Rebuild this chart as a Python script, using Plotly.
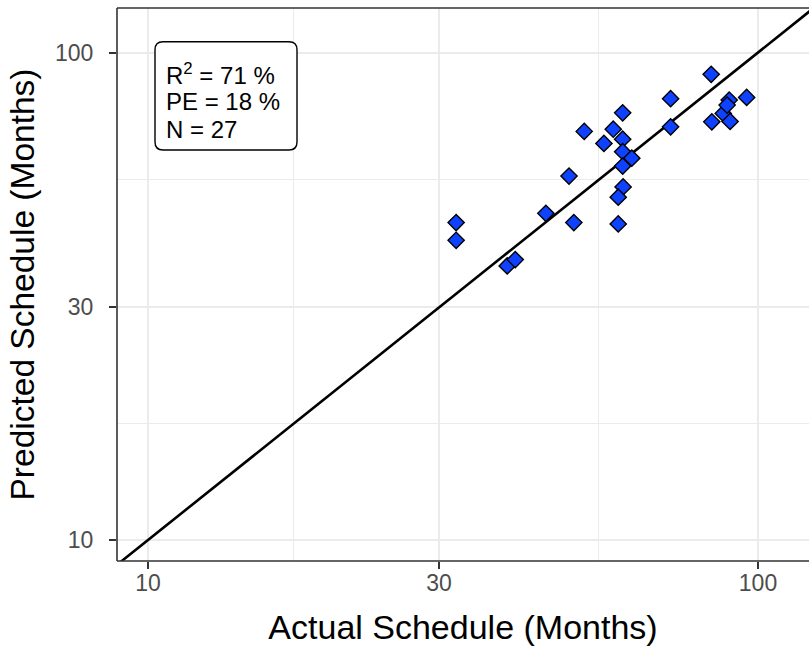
import plotly.graph_objects as go

# Data (Actual vs Predicted schedule, months)
actual = [32.0, 32.0, 38.8, 40.0, 44.9, 49.9, 49.0, 51.9, 55.9, 57.9, 60.0, 60.0,
          60.0, 62.1, 60.0, 60.1, 59.0, 59.0, 71.9, 71.9, 83.8, 84.0, 87.7, 89.7,
          90.0, 95.8, 89.0]
predicted = [44.8, 41.2, 36.5, 37.6, 46.8, 44.8, 55.8, 68.9, 65.1, 69.6, 66.4, 75.2,
             62.6, 60.7, 58.5, 53.0, 50.5, 44.5, 80.4, 70.4, 90.2, 72.1, 75.0, 79.9,
             72.2, 80.9, 78.0]
tick_vals = [10, 30, 100]
tick_text = ["10", "30", "100"]
minor_vals = [17.32, 54.77]
identity = [1, 1000]
stats_lines = ["R<sup>2</sup> = 71 %", "PE = 18 %", "N = 27"]

FONT = "Liberation Sans, Arial, Helvetica, sans-serif"
W, H = 809, 647
ML, MR, MT, MB = 117, 0, 8, 86
PW, PH = W - ML - MR, H - MT - MB

def px2paper(x, y):
    return (x - ML) / PW, 1 - (y - MT) / PH

fig = go.Figure()
fig.add_trace(go.Scatter(x=identity, y=identity, mode="lines",
                         line=dict(color="black", width=2.6), hoverinfo="skip",
                         showlegend=False))
fig.add_trace(go.Scatter(x=actual, y=predicted, mode="markers",
                         marker=dict(symbol="diamond", size=12.5, color="#0F42FF",
                                     line=dict(color="black", width=1.4)),
                         showlegend=False))

axis_common = dict(
    type="log", tickvals=tick_vals, ticktext=tick_text,
    showgrid=True, gridcolor="#EBEBEB", gridwidth=2,
    minor=dict(tickvals=minor_vals, showgrid=True, gridcolor="#EBEBEB", gridwidth=1,
               ticklen=0),
    ticks="outside", ticklen=7, tickwidth=1.8, tickcolor="#333333",
    showline=False, mirror=False,
    tickfont=dict(family=FONT, size=23, color="#4D4D4D"),
    zeroline=False, automargin=False,
)

fig.update_layout(
    width=W, height=H,
    margin=dict(l=ML, r=MR, t=MT, b=MB),
    paper_bgcolor="white", plot_bgcolor="white",
    font=dict(family=FONT),
    xaxis=dict(axis_common, range=[0.9492, 2.0836], ticklabelstandoff=-6,
               title=dict(text="Actual Schedule (Months)",
                          font=dict(family=FONT, size=34, color="black"), standoff=20)),
    yaxis=dict(axis_common, range=[0.957, 2.0913], ticklabelstandoff=11,
               title=dict(text="Predicted Schedule (Months)",
                          font=dict(family=FONT, size=33.5, color="black"), standoff=10)),
)

# panel border: left, bottom, top (right side is cut off in the reference)
border = dict(color="#333333", width=1.6)
fig.add_shape(type="line", xref="paper", yref="paper", x0=0, x1=0, y0=0, y1=1, line=border, layer="above")
fig.add_shape(type="line", xref="paper", yref="paper", x0=0, x1=1, y0=0, y1=0, line=border, layer="above")
fig.add_shape(type="line", xref="paper", yref="paper", x0=0, x1=1, y0=1, y1=1, line=border, layer="above")

# rounded label box
x0, yt = px2paper(155, 41.7)
x1, yb = px2paper(297, 150)
rx, ry = 8 / PW, 8 / PH
path = (f"M {x0+rx},{yt} L {x1-rx},{yt} Q {x1},{yt} {x1},{yt-ry} "
        f"L {x1},{yb+ry} Q {x1},{yb} {x1-rx},{yb} L {x0+rx},{yb} "
        f"Q {x0},{yb} {x0},{yb+ry} L {x0},{yt-ry} Q {x0},{yt} {x0+rx},{yt} Z")
fig.add_shape(type="path", path=path, xref="paper", yref="paper",
              line=dict(color="black", width=1.4), fillcolor="white", layer="above")

for i, txt in enumerate(stats_lines):
    ax, ay = px2paper(164, 74 + 27.5 * i)
    fig.add_annotation(x=ax, y=ay, xref="paper", yref="paper", text=txt,
                       showarrow=False, xanchor="left", yanchor="middle",
                       font=dict(family=FONT, size=24, color="black"))

fig.write_html("out.html", config={"displayModeBar": False},
               post_script="document.body.style.margin='0';document.body.style.overflow='hidden';")
